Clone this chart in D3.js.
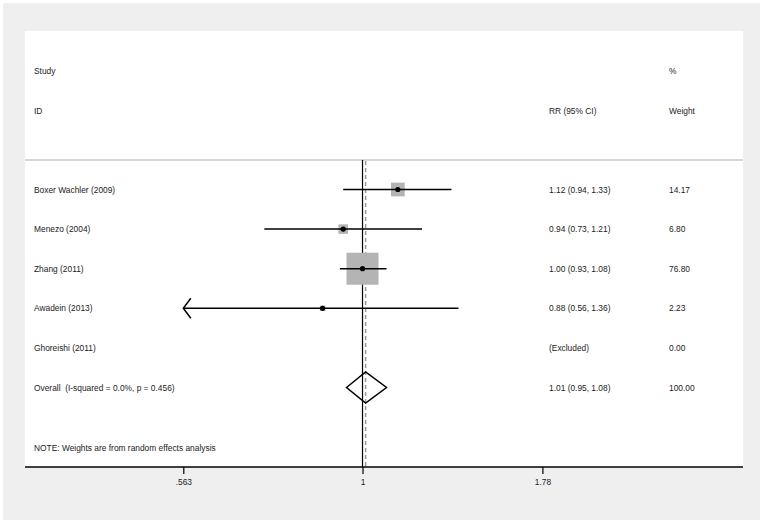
<!DOCTYPE html>
<html>
<head>
<meta charset="utf-8">
<script src="https://cdn.jsdelivr.net/npm/d3@7"></script>
<style>
  body { margin: 0; background: #fff; }
  text { font-family: "Liberation Sans", Arial, sans-serif; fill: #222; }
</style>
</head>
<body>
<div id="chart"></div>
<script>
// study rows
var studies = ["Boxer Wachler (2009)", "Menezo (2004)", "Zhang (2011)", "Awadein (2013)", "Ghoreishi (2011)"];
var rr      = [1.12, 0.94, 1.00, 0.88, null];
var lower   = [0.94, 0.73, 0.93, 0.56, null];
var upper   = [1.33, 1.21, 1.08, 1.36, null];
var weights = [14.17, 6.80, 76.80, 2.23, 0.00];
var ciText  = ["1.12 (0.94, 1.33)", "0.94 (0.73, 1.21)", "1.00 (0.93, 1.08)", "0.88 (0.56, 1.36)", "(Excluded)"];
var weightText = ["14.17", "6.80", "76.80", "2.23", "0.00"];

// pooled estimate
var overallLabel = "Overall  (I-squared = 0.0%, p = 0.456)";
var overallRR = 1.01, overallLo = 0.95, overallHi = 1.08;
var overallCiText = "1.01 (0.95, 1.08)", overallWeight = "100.00";

var tickValues = [0.563, 1, 1.78];
var tickLabels = [".563", "1", "1.78"];
var note = "NOTE: Weights are from random effects analysis";

var width = 764, height = 523;
var panel = {left: 25, right: 743, top: 31, bottom: 467};
var fs = 8.4;

var svg = d3.select("#chart").append("svg")
    .attr("width", width)
    .attr("height", height);

// backgrounds
svg.append("rect").attr("x", 3).attr("y", 3).attr("width", 757).attr("height", 517).attr("fill", "#efefef");
svg.append("rect").attr("x", panel.left).attr("y", panel.top)
    .attr("width", panel.right - panel.left).attr("height", panel.bottom - panel.top)
    .attr("fill", "#fff");

var x = d3.scaleLog()
    .domain([0.563, 1.78])
    .range([183.3, 542.4]);

var y = d3.scaleLinear()
    .domain([0, 5])
    .range([189.5, 387.5]);

var xMin = tickValues[0];

var size = d3.scaleSqrt().domain([0, 76.8]).range([0, 32]);

var colStudy = 34, colCI = 549, colW = 669;

// header
var header = svg.append("g").attr("font-size", fs);
header.append("text").attr("x", colStudy).attr("y", 74).text("Study");
header.append("text").attr("x", colStudy).attr("y", 114).text("ID");
header.append("text").attr("x", colCI).attr("y", 114).text("RR (95% CI)");
header.append("text").attr("x", colW).attr("y", 74).text("%");
header.append("text").attr("x", colW).attr("y", 114).text("Weight");

svg.append("line")
    .attr("x1", panel.left).attr("x2", panel.right)
    .attr("y1", 160).attr("y2", 160)
    .attr("stroke", "#d6d6d6").attr("stroke-width", 2);

// null line and pooled estimate line
svg.append("line")
    .attr("x1", x(1)).attr("x2", x(1))
    .attr("y1", 160).attr("y2", panel.bottom)
    .attr("stroke", "#000").attr("stroke-width", 1.2);

svg.append("line")
    .attr("x1", x(overallRR)).attr("x2", x(overallRR))
    .attr("y1", 161).attr("y2", panel.bottom)
    .attr("stroke", "#999").attr("stroke-width", 1.5)
    .attr("stroke-dasharray", "4,3");

// study rows
var rows = svg.selectAll(".row")
    .data(studies)
    .enter()
    .append("g")
    .attr("class", "row");

rows.each(function(d, i) {
    var g = d3.select(this);
    var cy = y(i);

    g.append("text").attr("x", colStudy).attr("y", cy + 3).attr("font-size", fs).text(d);
    g.append("text").attr("x", colCI).attr("y", cy + 3).attr("font-size", fs).text(ciText[i]);
    g.append("text").attr("x", colW).attr("y", cy + 3).attr("font-size", fs).text(weightText[i]);

    if (rr[i] === null) return;

    var s = size(weights[i]);
    g.append("rect")
        .attr("x", x(rr[i]) - s / 2).attr("y", cy - s / 2)
        .attr("width", s).attr("height", s)
        .attr("fill", "#b4b4b4");

    var lo = Math.max(lower[i], xMin);
    g.append("line")
        .attr("x1", x(lo)).attr("x2", x(upper[i]))
        .attr("y1", cy).attr("y2", cy)
        .attr("stroke", "#000").attr("stroke-width", 1.5);

    // arrow if the interval runs off the axis
    if (lower[i] < xMin) {
        g.append("path")
            .attr("d", "M" + (x(lo) + 7.5) + "," + (cy - 10) + "L" + x(lo) + "," + cy + "L" + (x(lo) + 7.5) + "," + (cy + 10))
            .attr("fill", "none").attr("stroke", "#000").attr("stroke-width", 1.5);
    }

    g.append("circle")
        .attr("cx", x(rr[i])).attr("cy", cy).attr("r", 2.6)
        .attr("fill", "#000");
});

// overall row
var oy = y(5);
svg.append("text").attr("x", colStudy).attr("y", oy + 3).attr("font-size", fs).attr("xml:space", "preserve").text(overallLabel);
svg.append("text").attr("x", colCI).attr("y", oy + 3).attr("font-size", fs).text(overallCiText);
svg.append("text").attr("x", colW).attr("y", oy + 3).attr("font-size", fs).text(overallWeight);

svg.append("path")
    .attr("d", "M" + x(overallLo) + "," + oy +
               "L" + x(overallRR) + "," + (oy - 15.5) +
               "L" + x(overallHi) + "," + oy +
               "L" + x(overallRR) + "," + (oy + 15.5) + "Z")
    .attr("fill", "none").attr("stroke", "#000").attr("stroke-width", 1.5);

svg.append("text").attr("x", colStudy).attr("y", 450.5).attr("font-size", fs).text(note);

// axis
var axis = svg.append("g")
    .attr("transform", "translate(0," + panel.bottom + ")")
    .call(d3.axisBottom(x)
        .tickValues(tickValues)
        .tickFormat(function(d, i) { return tickLabels[i]; })
        .tickSize(7)
        .tickSizeOuter(0));

axis.select(".domain").remove();
axis.selectAll(".tick line").attr("stroke", "#000").attr("stroke-width", 1.2);
axis.selectAll(".tick text")
    .attr("font-size", fs)
    .attr("font-family", null)
    .attr("fill", "#222")
    .attr("dy", "0.9em");

svg.append("line")
    .attr("x1", panel.left).attr("x2", panel.right)
    .attr("y1", panel.bottom).attr("y2", panel.bottom)
    .attr("stroke", "#000").attr("stroke-width", 1.5);
</script>
</body>
</html>
